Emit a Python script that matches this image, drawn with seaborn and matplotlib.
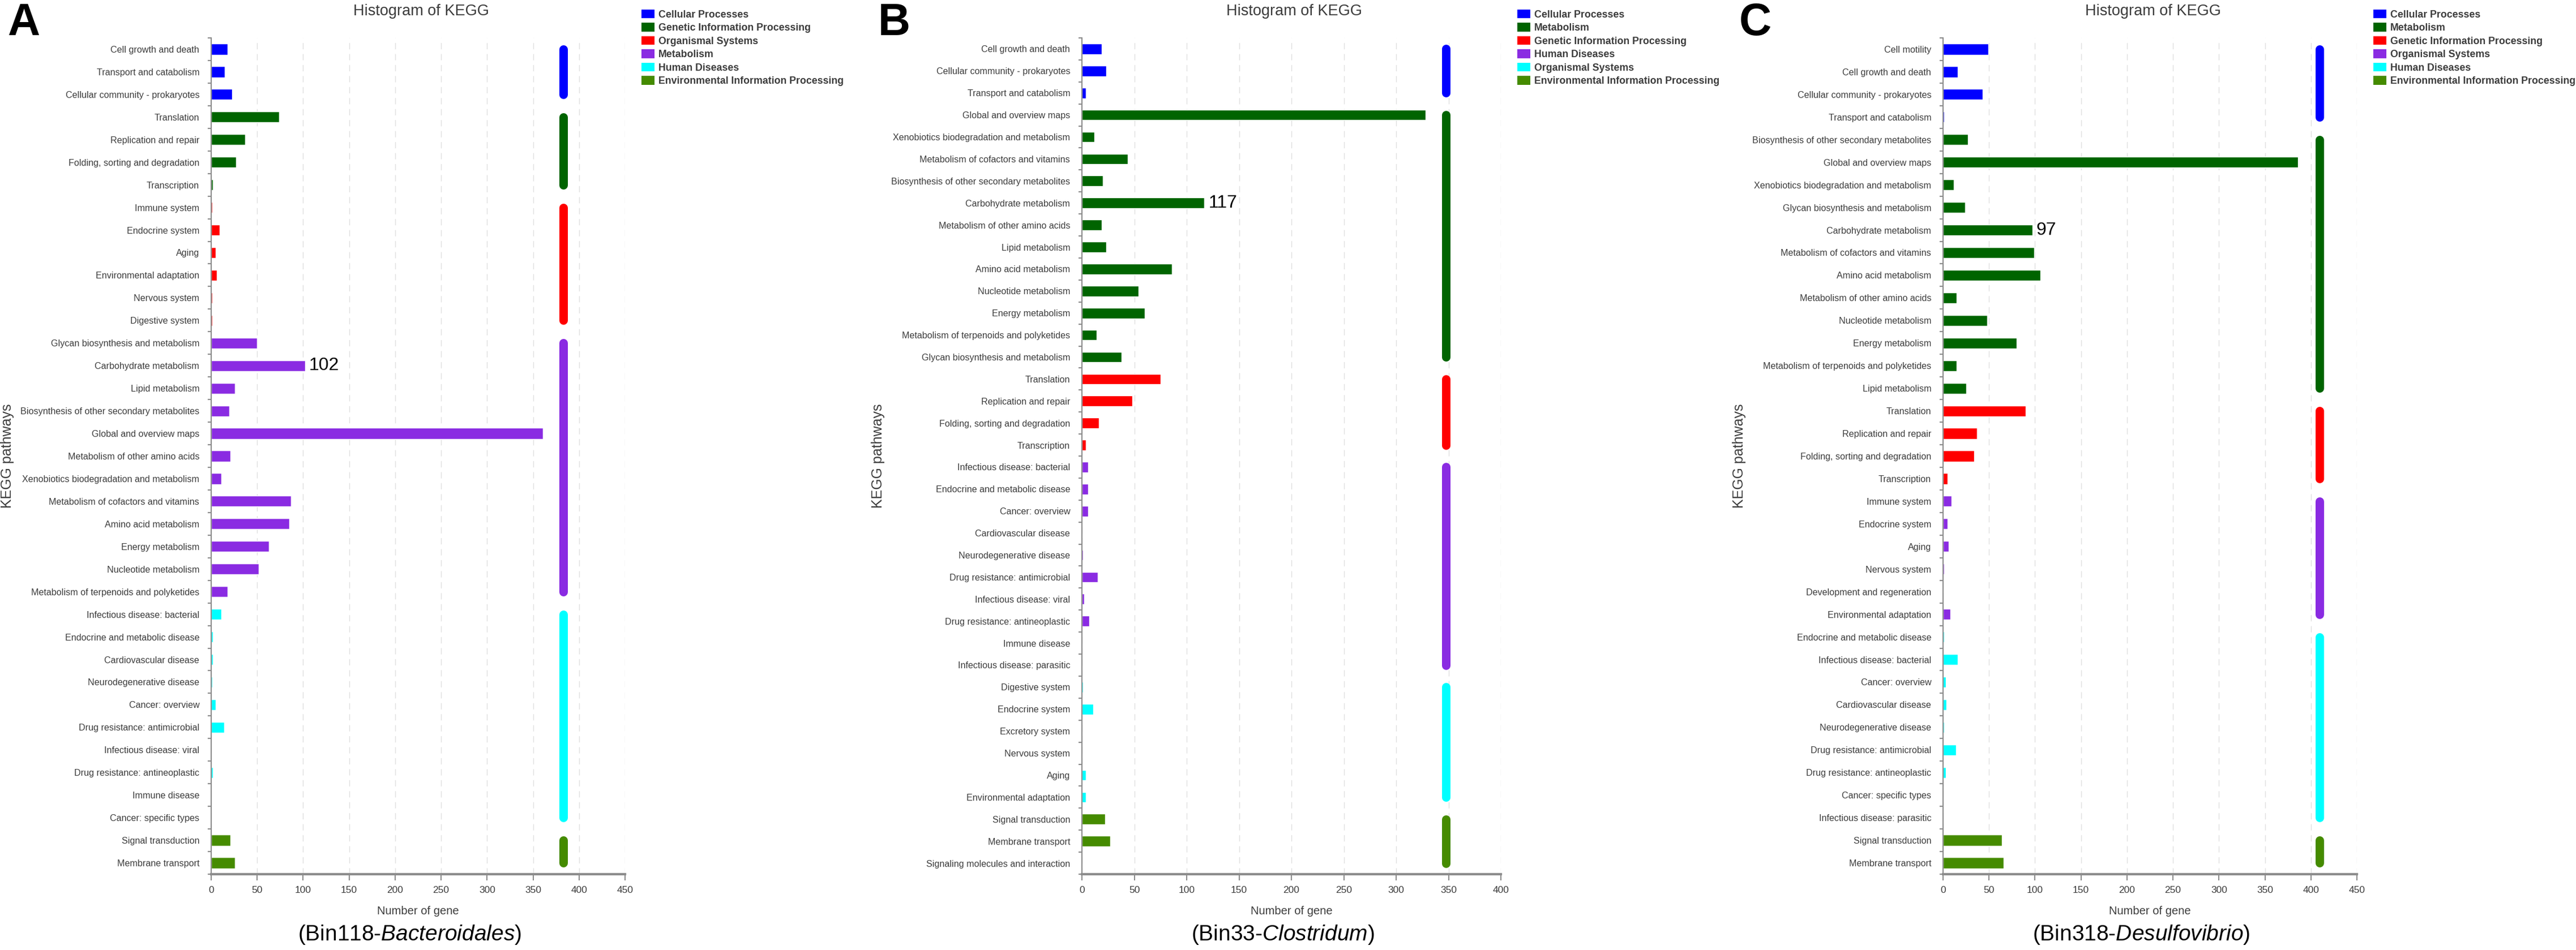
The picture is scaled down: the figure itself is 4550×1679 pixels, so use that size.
import numpy as np
import pandas as pd
import seaborn as sns
import matplotlib.pyplot as plt
from matplotlib.patches import Patch

sns.set_style('white')

FONT = 'Liberation Sans'
plt.rcParams['font.family'] = [FONT, 'DejaVu Sans']
plt.rcParams['mathtext.fontset'] = 'custom'
plt.rcParams['mathtext.rm'] = FONT
plt.rcParams['mathtext.it'] = FONT + ':italic'

# colours, same order in every legend
colors = ['#0000FF', '#006400', '#FF0000', '#8A2BE2', '#00FFFF', '#458B00']

# ---- panel A : Bin118-Bacteroidales
a_groups = ['Cellular Processes', 'Genetic Information Processing', 'Organismal Systems',
            'Metabolism', 'Human Diseases', 'Environmental Information Processing']
a_group_sizes = [3, 4, 6, 12, 10, 2]
a_pathways = [
    'Cell growth and death', 'Transport and catabolism', 'Cellular community - prokaryotes',
    'Translation', 'Replication and repair', 'Folding, sorting and degradation', 'Transcription',
    'Immune system', 'Endocrine system', 'Aging', 'Environmental adaptation', 'Nervous system',
    'Digestive system',
    'Glycan biosynthesis and metabolism', 'Carbohydrate metabolism', 'Lipid metabolism',
    'Biosynthesis of other secondary metabolites', 'Global and overview maps',
    'Metabolism of other amino acids', 'Xenobiotics biodegradation and metabolism',
    'Metabolism of cofactors and vitamins', 'Amino acid metabolism', 'Energy metabolism',
    'Nucleotide metabolism', 'Metabolism of terpenoids and polyketides',
    'Infectious disease: bacterial', 'Endocrine and metabolic disease', 'Cardiovascular disease',
    'Neurodegenerative disease', 'Cancer: overview', 'Drug resistance: antimicrobial',
    'Infectious disease: viral', 'Drug resistance: antineoplastic', 'Immune disease',
    'Cancer: specific types',
    'Signal transduction', 'Membrane transport']
a_counts = [18, 15, 23, 74, 37, 27, 2, 1, 9, 5, 6, 1, 1,
            50, 102, 26, 20, 361, 21, 11, 87, 85, 63, 52, 18,
            11, 2, 2, 1, 5, 14, 0, 2, 0, 0, 21, 26]

# ---- panel B : Bin33-Clostridum
b_groups = ['Cellular Processes', 'Metabolism', 'Genetic Information Processing',
            'Human Diseases', 'Organismal Systems', 'Environmental Information Processing']
b_group_sizes = [3, 12, 4, 10, 6, 3]
b_pathways = [
    'Cell growth and death', 'Cellular community - prokaryotes', 'Transport and catabolism',
    'Global and overview maps', 'Xenobiotics biodegradation and metabolism',
    'Metabolism of cofactors and vitamins', 'Biosynthesis of other secondary metabolites',
    'Carbohydrate metabolism', 'Metabolism of other amino acids', 'Lipid metabolism',
    'Amino acid metabolism', 'Nucleotide metabolism', 'Energy metabolism',
    'Metabolism of terpenoids and polyketides', 'Glycan biosynthesis and metabolism',
    'Translation', 'Replication and repair', 'Folding, sorting and degradation', 'Transcription',
    'Infectious disease: bacterial', 'Endocrine and metabolic disease', 'Cancer: overview',
    'Cardiovascular disease', 'Neurodegenerative disease', 'Drug resistance: antimicrobial',
    'Infectious disease: viral', 'Drug resistance: antineoplastic', 'Immune disease',
    'Infectious disease: parasitic',
    'Digestive system', 'Endocrine system', 'Excretory system', 'Nervous system', 'Aging',
    'Environmental adaptation',
    'Signal transduction', 'Membrane transport', 'Signaling molecules and interaction']
b_counts = [19, 23, 4, 328, 12, 44, 20, 117, 19, 23, 86, 54, 60, 14, 38,
            75, 48, 16, 4, 6, 6, 6, 0, 1, 15, 2, 7, 0, 0,
            1, 11, 0, 0, 4, 4, 22, 27, 0]

# ---- panel C : Bin318-Desulfovibrio
c_groups = ['Cellular Processes', 'Metabolism', 'Genetic Information Processing',
            'Organismal Systems', 'Human Diseases', 'Environmental Information Processing']
c_group_sizes = [4, 12, 4, 6, 9, 2]
c_pathways = [
    'Cell motility', 'Cell growth and death', 'Cellular community - prokaryotes',
    'Transport and catabolism',
    'Biosynthesis of other secondary metabolites', 'Global and overview maps',
    'Xenobiotics biodegradation and metabolism', 'Glycan biosynthesis and metabolism',
    'Carbohydrate metabolism', 'Metabolism of cofactors and vitamins', 'Amino acid metabolism',
    'Metabolism of other amino acids', 'Nucleotide metabolism', 'Energy metabolism',
    'Metabolism of terpenoids and polyketides', 'Lipid metabolism',
    'Translation', 'Replication and repair', 'Folding, sorting and degradation', 'Transcription',
    'Immune system', 'Endocrine system', 'Aging', 'Nervous system',
    'Development and regeneration', 'Environmental adaptation',
    'Endocrine and metabolic disease', 'Infectious disease: bacterial', 'Cancer: overview',
    'Cardiovascular disease', 'Neurodegenerative disease', 'Drug resistance: antimicrobial',
    'Drug resistance: antineoplastic', 'Cancer: specific types', 'Infectious disease: parasitic',
    'Signal transduction', 'Membrane transport']
c_counts = [49, 16, 43, 1, 27, 386, 12, 24, 97, 99, 106, 15, 48, 80, 15, 25,
            90, 37, 34, 5, 9, 5, 6, 1, 0, 8,
            1, 16, 3, 4, 1, 14, 3, 0, 0, 64, 66]

W, H = 4550, 1679
fig = plt.figure(figsize=(W / 100, H / 100), dpi=100)


def fx(x):
    return x / W


def fy(y):
    return 1 - y / H


TOP, BOTTOM = 67, 1545
TEXT = '#3c3c3c'
AXIS = '#8c8c8c'

panels = [
    dict(letter='A', left=373, right=1104, xmax=450, groups=a_groups, sizes=a_group_sizes,
         pathways=a_pathways, counts=a_counts, bin='Bin118', taxon='Bacteroidales'),
    dict(letter='B', left=1911, right=2651, xmax=400, groups=b_groups, sizes=b_group_sizes,
         pathways=b_pathways, counts=b_counts, bin='Bin33', taxon='Clostridum'),
    dict(letter='C', left=3432, right=4163, xmax=450, groups=c_groups, sizes=c_group_sizes,
         pathways=c_pathways, counts=c_counts, bin='Bin318', taxon='Desulfovibrio'),
]

for p in panels:
    group_col = np.repeat(p['groups'], p['sizes'])
    df = pd.DataFrame({'pathway': p['pathways'], 'count': p['counts'], 'group': group_col})
    n = len(df)

    ax = fig.add_axes([fx(p['left']), fy(BOTTOM), (p['right'] - p['left']) / W, (BOTTOM - TOP) / H])
    sns.barplot(data=df, x='count', y='pathway', hue='group', order=p['pathways'],
                hue_order=p['groups'], palette=colors, dodge=False, width=0.48,
                saturation=1, legend=False, ax=ax)

    # group bands to the right of the bars
    band_x = df['count'].max() * 1.06
    start = 0
    for g, size, c in zip(p['groups'], p['sizes'], colors):
        ax.plot([band_x, band_x], [start, start + size - 1], color=c, lw=10.8,
                solid_capstyle='round', clip_on=False)
        start += size

    # label on the carbohydrate bar
    carb = df.index[df['pathway'] == 'Carbohydrate metabolism'][0]
    ax.text(df.loc[carb, 'count'] + 4, carb, str(df.loc[carb, 'count']), va='center',
            ha='left', fontsize=23, color='black')

    ax.set_xlim(0, p['xmax'])
    ax.set_ylim(n - 0.5, -0.5)
    ax.set_xticks(np.arange(0, p['xmax'] + 1, 50))
    ax.set_yticks(range(n))
    ax.set_yticklabels(p['pathways'])
    ax.set_yticks(np.arange(-0.5, n, 1), minor=True)
    ax.tick_params(axis='y', which='major', length=0, pad=15, labelsize=11.6, labelcolor=TEXT)
    ax.tick_params(axis='y', which='minor', length=4.5, width=1.5, color=AXIS, direction='out', left=True)
    ax.tick_params(axis='x', length=8, width=1.5, color=AXIS, pad=7, labelsize=12.5,
                   labelcolor=TEXT, bottom=True)
    ax.set_xlabel('')
    ax.set_ylabel('')
    ax.grid(axis='x', color='#e0e0e0', linestyle=(0, (8, 6)), linewidth=1)
    ax.set_axisbelow(True)
    for s in ['top', 'right']:
        ax.spines[s].set_visible(False)
    ax.spines['left'].set_color(AXIS)
    ax.spines['left'].set_linewidth(1.5)
    ax.spines['bottom'].set_color(AXIS)
    ax.spines['bottom'].set_linewidth(3)

    mid = (p['left'] + p['right']) / 2
    fig.text(fx(mid + 5), fy(20), 'Histogram of KEGG', ha='center', va='center',
             fontsize=19.5, color=TEXT)
    fig.text(fx(p['left'] - 360), fy(806), 'KEGG pathways', rotation=90, ha='center',
             va='center', fontsize=18, color=TEXT)
    fig.text(fx(mid), fy(1610), 'Number of gene', ha='center', va='center',
             fontsize=14.5, color=TEXT)
    fig.text(fx(mid - 15), fy(1652), '(' + p['bin'] + '-$\\it{' + p['taxon'] + '}$)',
             ha='center', va='center', fontsize=28, color='black')
    fig.text(fx(p['left'] - 360), fy(4), p['letter'], ha='left', va='top', fontsize=57,
             fontweight='bold', color='black')

    handles = [Patch(facecolor=c, edgecolor='none') for c in colors]
    fig.legend(handles, p['groups'], loc='upper left', bbox_to_anchor=(fx(p['right'] + 29), fy(17)),
               frameon=False, prop=dict(weight='bold', size=12.8),
               labelcolor=TEXT, handlelength=1.3, handleheight=0.95, handletextpad=0.4,
               labelspacing=0.32, borderpad=0, borderaxespad=0)

fig.savefig('out.png', dpi=100)
